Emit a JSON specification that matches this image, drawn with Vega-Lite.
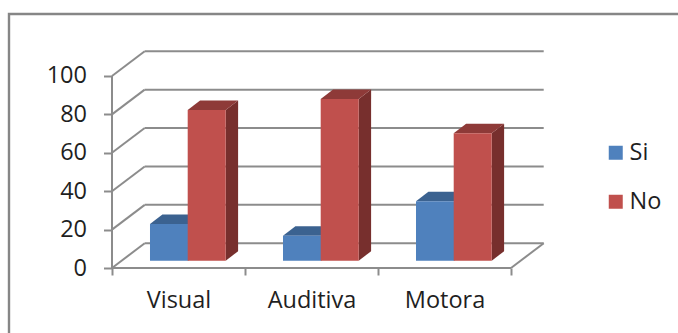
{
"$schema":"https://vega.github.io/schema/vega-lite/v6.json",
"width":680,"height":330,
"autosize":{"type":"none"},
"padding":{"left":9,"top":14,"right":-11,"bottom":-11},
"background":"white",
"config":{"font":"Open Sans","view":{"stroke":"#868686","strokeWidth":2.4}},
"datasets":{
"barras":[
{"categoria":"Visual","serie":"Si","valor":19.1},
{"categoria":"Visual","serie":"No","valor":78.5},
{"categoria":"Auditiva","serie":"Si","valor":13},
{"categoria":"Auditiva","serie":"No","valor":84.2},
{"categoria":"Motora","serie":"Si","valor":31},
{"categoria":"Motora","serie":"No","valor":66.4}
],
"marcas":[{"t":0},{"t":20},{"t":40},{"t":60},{"t":80},{"t":100}]
},
"layer":[
{"data":{"name":"marcas"},
"transform":[{"calculate":"0.5","as":"xa"},{"calculate":"0.7459","as":"xb"},{"calculate":"datum.t+12.9","as":"yb"}],
"mark":{"type":"rule","color":"#8c8c8c","strokeWidth":2},
"encoding":{
"x":{"field":"xa","type":"quantitative","title":null,"scale":{"domain":[-0.2744,4.8383],"nice":false,"zero":false},
"axis":{"orient":"bottom","offset":-76,"values":[0.5,1.5,2.5,3.5],"domain":false,"grid":false,"tickColor":"#8c8c8c","tickWidth":2,"tickSize":7,"labelOffset":66.5,"labelOverlap":false,"labelBound":false,"labelFlush":false,"labelAngle":0,"labelAlign":"center","labelFontSize":23.5,"labelColor":"#1f1f1f","labelPadding":13,"labelExpr":"datum.value==0.5?'Visual':datum.value==1.5?'Auditiva':datum.value==2.5?'Motora':''"}},
"y":{"field":"t","type":"quantitative","title":null,"scale":{"domain":[-39.58,132.29],"nice":false,"zero":false},
"axis":{"orient":"left","offset":-102.5,"values":[0,20,40,60,80,100],"domain":false,"grid":false,"tickColor":"#8c8c8c","tickWidth":2,"tickSize":8,"labelOverlap":false,"labelBound":false,"labelFontSize":23.5,"labelColor":"#1f1f1f","labelPadding":17}},
"x2":{"field":"xb"},
"y2":{"field":"yb"}
}},
{"data":{"name":"marcas"},
"transform":[{"calculate":"0.7459","as":"xa"},{"calculate":"3.7459","as":"xb"},{"calculate":"datum.t+12.9","as":"yb"}],
"mark":{"type":"rule","color":"#8c8c8c","strokeWidth":2},
"encoding":{
"x":{"field":"xa","type":"quantitative","title":null},
"x2":{"field":"xb"},
"y":{"field":"yb","type":"quantitative","title":null}
}},
{"data":{"name":"marcas"},
"transform":[{"filter":"datum.t==0"},{"calculate":"0.5","as":"xa"},{"calculate":"3.5","as":"xb"}],
"mark":{"type":"rule","color":"#8c8c8c","strokeWidth":2},
"encoding":{
"x":{"field":"xa","type":"quantitative","title":null},
"x2":{"field":"xb"},
"y":{"field":"t","type":"quantitative","title":null}
}},
{"data":{"name":"marcas"},
"transform":[{"filter":"datum.t==0"},{"calculate":"3.5","as":"xa"},{"calculate":"3.7459","as":"xb"},{"calculate":"12.9","as":"yb"}],
"mark":{"type":"rule","color":"#8c8c8c","strokeWidth":2},
"encoding":{
"x":{"field":"xa","type":"quantitative","title":null},
"x2":{"field":"xb"},
"y":{"field":"t","type":"quantitative","title":null},
"y2":{"field":"yb"}
}},
{"data":{"name":"marcas"},
"transform":[{"filter":"datum.t==100"},{"calculate":"0.5","as":"xa"},{"calculate":"0","as":"y0"}],
"mark":{"type":"rule","color":"#8c8c8c","strokeWidth":2},
"encoding":{
"x":{"field":"xa","type":"quantitative","title":null},
"y":{"field":"t","type":"quantitative","title":null},
"y2":{"field":"y0"}
}},
{"data":{"name":"barras"},
"transform":[
{"calculate":"indexof(['Visual','Auditiva','Motora'],datum.categoria)+1+(datum.serie=='Si'?-0.2143:0.0692)+0.2857","as":"der"},
{"calculate":"[0,1]","as":"p"},{"flatten":["p"]},
{"calculate":"datum.der+datum.p*0.0932","as":"xs"},
{"calculate":"3.8+datum.p*4.95","as":"ybase"},
{"calculate":"datum.ybase+datum.valor","as":"ytop"},
{"calculate":"datum.categoria+datum.serie","as":"clave"}
],
"mark":{"type":"area","orient":"vertical","opacity":1},
"encoding":{
"x":{"field":"xs","type":"quantitative","title":null},
"y":{"field":"ytop","type":"quantitative","title":null},
"y2":{"field":"ybase"},
"detail":{"field":"clave"},
"color":{"condition":{"test":"datum.serie=='Si'","value":"#2f4f76"},"value":"#772f2d"}
}},
{"data":{"name":"barras"},
"transform":[
{"calculate":"indexof(['Visual','Auditiva','Motora'],datum.categoria)+1+(datum.serie=='Si'?-0.2143:0.0692)","as":"izq"},
{"calculate":"[0,1]","as":"p"},{"flatten":["p"]},
{"calculate":"datum.izq+datum.p*0.0932","as":"xa"},
{"calculate":"datum.izq+0.2857+datum.p*0.0932","as":"xb"},
{"calculate":"3.8+datum.valor+datum.p*4.95","as":"yt"},
{"calculate":"datum.categoria+datum.serie","as":"clave"}
],
"mark":{"type":"area","orient":"horizontal","opacity":1},
"encoding":{
"y":{"field":"yt","type":"quantitative","title":null},
"x":{"field":"xa","type":"quantitative","title":null},
"x2":{"field":"xb"},
"detail":{"field":"clave"},
"color":{"condition":{"test":"datum.serie=='Si'","value":"#3b6290"},"value":"#8e3a38"}
}},
{"data":{"name":"barras"},
"transform":[
{"calculate":"indexof(['Visual','Auditiva','Motora'],datum.categoria)+1+(datum.serie=='Si'?-0.2143:0.0692)","as":"izq"},
{"calculate":"datum.izq+0.2857","as":"der"},
{"calculate":"3.8","as":"ybase"},
{"calculate":"3.8+datum.valor","as":"ytop"}
],
"mark":{"type":"rect"},
"encoding":{
"x":{"field":"izq","type":"quantitative","title":null},
"x2":{"field":"der"},
"y":{"field":"ybase","type":"quantitative","title":null},
"y2":{"field":"ytop"},
"color":{"field":"serie","type":"nominal","scale":{"domain":["Si","No"],"range":["#4f81bd","#c0504d"]},
"legend":{"orient":"none","legendX":595,"legendY":127,"title":null,"symbolType":"square","symbolSize":196,"symbolStrokeWidth":0,"labelFontSize":23.5,"labelColor":"#1f1f1f","labelOffset":2,"rowPadding":24}}
}}
]
}
